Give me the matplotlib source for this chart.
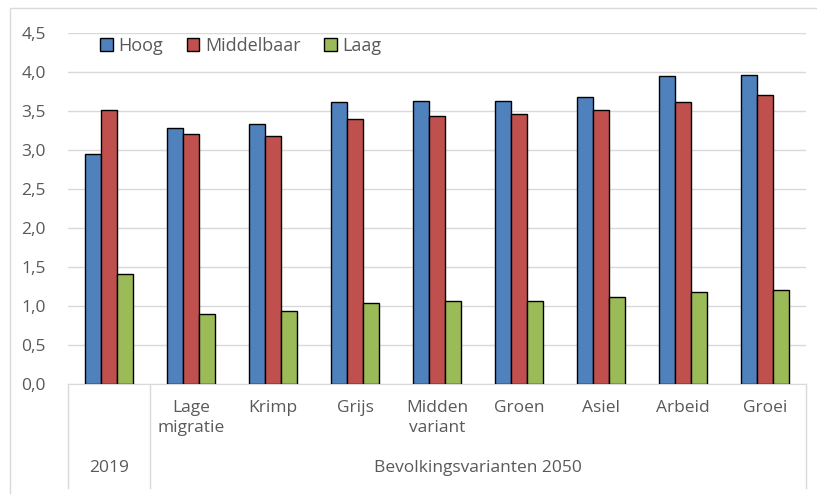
import numpy as np
import matplotlib.pyplot as plt
from matplotlib.ticker import FuncFormatter
from matplotlib.patches import Rectangle

plt.rcParams['font.family'] = ['Open Sans', 'DejaVu Sans']

categories = ['', 'Lage\nmigratie', 'Krimp', 'Grijs', 'Midden\nvariant',
              'Groen', 'Asiel', 'Arbeid', 'Groei']
groups = ['2019', 'Bevolkingsvarianten 2050']
hoog = [2.95, 3.28, 3.33, 3.61, 3.63, 3.63, 3.68, 3.95, 3.96]
middelbaar = [3.51, 3.21, 3.18, 3.40, 3.44, 3.46, 3.51, 3.61, 3.70]
laag = [1.41, 0.90, 0.93, 1.04, 1.06, 1.07, 1.11, 1.18, 1.20]

series = [('Hoog', hoog, '#4F81BD'),
          ('Middelbaar', middelbaar, '#C0504D'),
          ('Laag', laag, '#9BBB59')]

fig = plt.figure(figsize=(8.17, 4.94), dpi=100)
ax = fig.add_axes([68/817, 110/494, 738/817, 351/494])

# grijze kader om de grafiek
fig.patches.append(Rectangle((10/817, -0.1), 1.2, (486/494) + 0.1, transform=fig.transFigure,
                             fill=False, edgecolor='#d9d9d9', linewidth=1))

x = np.arange(len(categories))
w = 0.195
for i, (name, vals, col) in enumerate(series):
    ax.bar(x + (i - 1) * w, vals, w, color=col, edgecolor='black', linewidth=1,
           label=name, zorder=3)

ax.set_xlim(-0.5, len(categories) - 0.5)
ax.set_ylim(0, 4.5)
ax.set_yticks(np.arange(0, 4.51, 0.5))
ax.yaxis.set_major_formatter(FuncFormatter(lambda v, p: f'{v:.1f}'.replace('.', ',')))
ax.grid(axis='y', color='#d9d9d9', linewidth=1, zorder=0)
ax.tick_params(axis='y', length=0, labelsize=12.5, labelcolor='#595959', pad=16)
ax.set_xticks([])
for s in ['top', 'right', 'left']:
    ax.spines[s].set_visible(False)
ax.spines['bottom'].set_color('#d9d9d9')

# categorie labels onder de as
trans = ax.get_xaxis_transform()
for xi, c in zip(x, categories):
    ax.text(xi, -0.045, c, transform=trans, ha='center', va='top',
            fontsize=12.5, color='#595959', linespacing=1.35)
ax.text(0, -0.239, groups[0], transform=trans, ha='center', va='center',
        fontsize=12.5, color='#595959')
ax.text(4.5, -0.239, groups[1], transform=trans, ha='center', va='center',
        fontsize=12.5, color='#595959')
for xv in [-0.5, 0.5, len(categories) - 0.5]:
    ax.plot([xv, xv], [0, -0.296], transform=trans, color='#d9d9d9',
            linewidth=1, clip_on=False)

leg = ax.legend(loc='upper left', bbox_to_anchor=(0.022, 1.035), ncol=3, frameon=False,
                fontsize=13, handlelength=0.7, handleheight=0.7, handletextpad=0.3,
                columnspacing=1.3)
for t in leg.get_texts():
    t.set_color('#595959')

fig.savefig('out.png', dpi=100)
